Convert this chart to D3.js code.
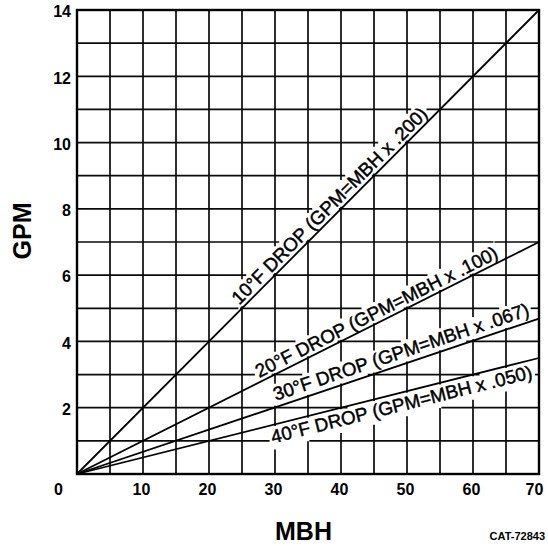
<!DOCTYPE html>
<html><head><meta charset="utf-8">
<script src="https://cdn.jsdelivr.net/npm/d3@7"></script>
<style>body{margin:0;background:#fff}svg{display:block}</style>
</head><body><svg id="c" width="548" height="546"></svg>
<script>
const mbhTicks = [0,10,20,30,40,50,60,70];
const gpmTicks = [2,4,6,8,10,12,14];
const dropLabels = ["10°F DROP","20°F DROP","30°F DROP","40°F DROP"];
const factors = [0.200,0.100,0.067,0.050];
const factorText = [".200",".100",".067",".050"];
const xTitle = "MBH", yTitle = "GPM", codeText = "CAT-72843";
const mbhMax = 70, gpmMax = 14, mbhStep = 5, gpmStep = 1;

// layout of the line labels: where each label starts (MBH along its line) and its offset from the line (px)
const labelStartMBH = [25.0, 27.9, 30.4, 29.0];
const labelOffset = [4, 4, 6, -18];

const W = 548, H = 546;
const L = 77, R = 539, T = 10, B = 474;
const x = d3.scaleLinear().domain([0, mbhMax]).range([L, R]);
const y = d3.scaleLinear().domain([0, gpmMax]).range([B, T]);
const FONT = '"Liberation Sans", Arial, Helvetica, sans-serif';
const fs = 18.8;

const svg = d3.select("#c");
svg.append("rect").attr("width", W).attr("height", H).attr("fill", "#fff");
const gridG = svg.append("g");
const borderG = svg.append("g");
const lineG = svg.append("g");
const labelG = svg.append("g");
const axG = svg.append("g");

factors.forEach(f => {
  lineG.append("line")
    .attr("x1", x(0)).attr("y1", y(0))
    .attr("x2", x(mbhMax)).attr("y2", y(f * mbhMax))
    .attr("stroke", "#000").attr("stroke-width", 1.8);
});

const boxes = [];
factors.forEach((f, i) => {
  const a = Math.atan2(y(0) - y(f * mbhMax), x(mbhMax) - x(0));
  const ux = Math.cos(a), uy = -Math.sin(a);
  const nx = -Math.sin(a), ny = -Math.cos(a);
  const m0 = labelStartMBH[i];
  const off = labelOffset[i];
  const bx = x(m0) + off * nx, by = y(f * m0) + off * ny;
  const t = labelG.append("text")
    .attr("transform", `translate(${bx},${by}) rotate(${-a * 180 / Math.PI})`)
    .attr("font-family", FONT).attr("font-size", fs)
    .attr("fill", "#000").attr("stroke", "#000").attr("stroke-width", 0.45)
    .text(`${dropLabels[i]} (GPM=MBH x ${factorText[i]})`);
  const len = t.node().getComputedTextLength();
  const pad = 2.5;
  let v0 = -0.74 * fs - pad, v1 = 0.21 * fs + pad;
  if (off > 0) v1 = Math.min(v1, off - 1.5);
  else v0 = Math.max(v0, off + 1.5);
  boxes.push({bx, by, ux, uy, px: Math.sin(a), py: Math.cos(a),
    u0: -pad, u1: len + pad, v0, v1});
});

function clipT(p1, p2, b) {
  const l = p => {
    const qx = p[0] - b.bx, qy = p[1] - b.by;
    return [qx * b.ux + qy * b.uy, qx * b.px + qy * b.py];
  };
  const A = l(p1), Bq = l(p2);
  let t0 = 0, t1 = 1;
  const ddx = Bq[0] - A[0], ddy = Bq[1] - A[1];
  const P = [-ddx, ddx, -ddy, ddy];
  const Q = [A[0] - b.u0, b.u1 - A[0], A[1] - b.v0, b.v1 - A[1]];
  for (let k = 0; k < 4; k++) {
    if (Math.abs(P[k]) < 1e-9) { if (Q[k] < 0) return null; }
    else {
      const r = Q[k] / P[k];
      if (P[k] < 0) { if (r > t1) return null; if (r > t0) t0 = r; }
      else { if (r < t0) return null; if (r < t1) t1 = r; }
    }
  }
  return t0 <= t1 ? [t0, t1] : null;
}

const segs = [];
const xs = d3.range(0, mbhMax + 0.001, mbhStep);
const ys = d3.range(0, gpmMax + 0.001, gpmStep);
xs.slice(1, -1).forEach(m => segs.push([[x(m), y(0)], [x(m), y(gpmMax)]]));
ys.slice(1, -1).forEach(g => segs.push([[x(0), y(g)], [x(mbhMax), y(g)]]));

segs.forEach(s => {
  let pieces = [[0, 1]];
  boxes.forEach(b => {
    const c = clipT(s[0], s[1], b);
    if (!c) return;
    const out = [];
    pieces.forEach(([a0, a1]) => {
      if (c[1] <= a0 || c[0] >= a1) { out.push([a0, a1]); return; }
      if (c[0] > a0) out.push([a0, c[0]]);
      if (c[1] < a1) out.push([c[1], a1]);
    });
    pieces = out;
  });
  const len = Math.hypot(s[1][0] - s[0][0], s[1][1] - s[0][1]);
  pieces.filter(([a0, a1]) => (a1 - a0) * len > 1).forEach(([a0, a1]) => {
    gridG.append("line")
      .attr("x1", s[0][0] + (s[1][0] - s[0][0]) * a0).attr("y1", s[0][1] + (s[1][1] - s[0][1]) * a0)
      .attr("x2", s[0][0] + (s[1][0] - s[0][0]) * a1).attr("y2", s[0][1] + (s[1][1] - s[0][1]) * a1)
      .attr("stroke", "#0a0a0a").attr("stroke-width", 1.7);
  });
});

borderG.append("rect")
  .attr("x", L).attr("y", T).attr("width", R - L).attr("height", B - T)
  .attr("fill", "none").attr("stroke", "#000").attr("stroke-width", 2.4);

const xa = axG.append("g").attr("transform", `translate(0,${B})`)
  .call(d3.axisBottom(x).tickValues(mbhTicks).tickSize(0).tickPadding(9.6).tickFormat(d3.format("d")));
xa.select(".domain").remove();
xa.selectAll("text")
  .attr("font-family", FONT).attr("font-size", 16).attr("font-weight", "bold").attr("fill", "#000")
  .attr("dx", d => d === 0 ? -19 : (d === mbhMax ? -5 : -2));

const ya = axG.append("g").attr("transform", `translate(${L},0)`)
  .call(d3.axisLeft(y).tickValues(gpmTicks).tickSize(0).tickPadding(6).tickFormat(d3.format("d")));
ya.select(".domain").remove();
ya.selectAll("text")
  .attr("font-family", FONT).attr("font-size", 16).attr("font-weight", "bold").attr("fill", "#000")
  .attr("dy", "0.42em");

svg.append("text").attr("x", (L + R) / 2 - 4.5).attr("y", 540)
  .attr("text-anchor", "middle").attr("font-family", FONT).attr("font-size", 25)
  .attr("font-weight", "bold").text(xTitle);
svg.append("text").attr("transform", `translate(31,231) rotate(-90)`)
  .attr("text-anchor", "middle").attr("font-family", FONT).attr("font-size", 25)
  .attr("font-weight", "bold").text(yTitle);
svg.append("text").attr("x", 545).attr("y", 540)
  .attr("text-anchor", "end").attr("font-family", FONT).attr("font-size", 11)
  .attr("font-weight", "bold").text(codeText);
</script></body></html>
